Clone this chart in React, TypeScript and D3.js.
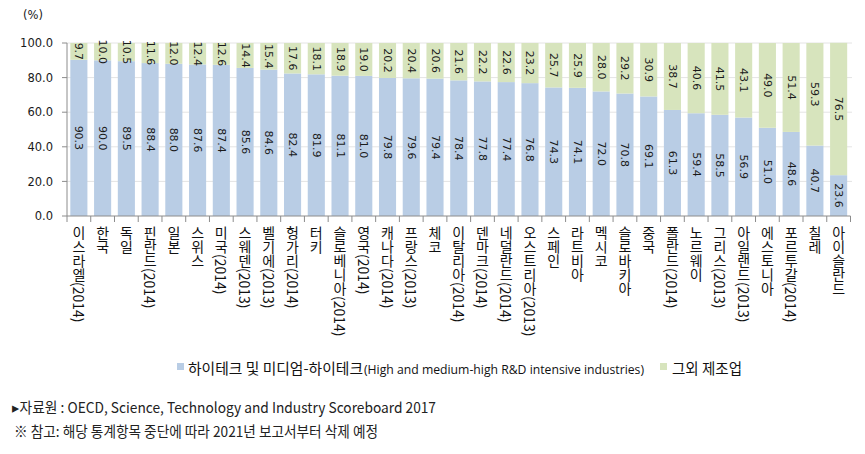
import React from "react";
import * as d3 from "d3";

const categories = [
  "이스라엘(2014)", "한국", "독일", "핀란드(2014)", "일본", "스위스", "미국(2014)",
  "스웨덴(2013)", "벨기에(2013)", "헝가리(2014)", "터키", "슬로베니아(2014)", "영국(2014)",
  "캐나다(2014)", "프랑스(2013)", "체코", "이탈리아(2014)", "덴마크(2014)", "네덜란드(2014)",
  "오스트리아(2013)", "스페인", "라트비아", "멕시코", "슬로바키아", "중국", "폴란드(2014)",
  "노르웨이", "그리스(2013)", "아일랜드(2013)", "에스토니아", "포르투갈(2014)", "칠레", "아이슬란드",
];
const highTech = [
  90.3, 90.0, 89.5, 88.4, 88.0, 87.6, 87.4, 85.6, 84.6, 82.4, 81.9, 81.1, 81.0, 79.8, 79.6,
  79.4, 78.4, 77.8, 77.4, 76.8, 74.3, 74.1, 72.0, 70.8, 69.1, 61.3, 59.4, 58.5, 56.9, 51.0,
  48.6, 40.7, 23.6,
];
const otherMfg = [
  9.7, 10.0, 10.5, 11.6, 12.0, 12.4, 12.6, 14.4, 15.4, 17.6, 18.1, 18.9, 19.0, 20.2, 20.4,
  20.6, 21.6, 22.2, 22.6, 23.2, 25.7, 25.9, 28.0, 29.2, 30.9, 38.7, 40.6, 41.5, 43.1, 49.0,
  51.4, 59.3, 76.5,
];
const yTicks = [0, 20, 40, 60, 80, 100];
const seriesKor = "하이테크 및 미디엄-하이테크";
const seriesEng = "(High and medium-high R&D intensive industries)";
const seriesOther = "그외 제조업";
const footnotes = [
  "▸자료원 : OECD, Science, Technology and Industry Scoreboard 2017",
  "※ 참고: 해당 통계항목 중단에 따라 2021년 보고서부터 삭제 예정",
];

const BLUE = "#b9cde5";
const GREEN = "#d7e4bd";
const AXIS = "#8c8c8c";
const GRID = "#e4e4e4";

export default function App() {
  const W = 865;
  const H = 454;
  const left = 67;
  const right = 850.5;
  const top = 43;
  const bottom = 216;

  const x = d3.scaleBand<string>().domain(categories).range([left, right]).paddingInner(0.28).paddingOuter(0.14);
  const y = d3.scaleLinear().domain([0, 100]).range([bottom, top]);
  const step = x.step();
  const bw = x.bandwidth();
  const offset = (right - left - step * categories.length) / 2;

  const numFont = "'DejaVu Sans', Verdana, sans-serif";
  const korFont = "'Noto Sans CJK KR', 'Noto Sans', sans-serif";

  return (
    <svg width={W} height={H} style={{ position: "absolute", left: 0, top: 0, background: "#fff" }}>
      {yTicks.filter((t) => t > 0).map((t) => (
        <line key={t} x1={left} x2={852} y1={y(t)} y2={y(t)} stroke={GRID} strokeWidth={1} />
      ))}
      {categories.map((c, i) => {
        const x0 = x(c)!;
        const b = highTech[i];
        const g = otherMfg[i];
        return (
          <g key={c}>
            <rect x={x0} y={y(b)} width={bw} height={y(0) - y(b)} fill={BLUE} />
            <rect x={x0} y={y(b + g)} width={bw} height={y(b) - y(b + g)} fill={GREEN} />
          </g>
        );
      })}
      {categories.map((c, i) => {
        const cx = x(c)! + bw / 2;
        const b = highTech[i];
        const g = otherMfg[i];
        return (
          <g key={"l" + c} fontFamily={numFont} fontSize={11} fill="#1a1a1a">
            <text x={cx} y={y(b / 2)} textAnchor="middle" style={{ writingMode: "vertical-rl" }}>
              {b.toFixed(1)}
            </text>
            <text x={cx} y={y(b + g / 2)} textAnchor="middle" style={{ writingMode: "vertical-rl" }}>
              {g.toFixed(1)}
            </text>
          </g>
        );
      })}
      <line x1={left} x2={left} y1={top} y2={bottom} stroke={AXIS} />
      {yTicks.map((t) => (
        <g key={"y" + t}>
          <line x1={left - 5} x2={left} y1={y(t)} y2={y(t)} stroke={AXIS} />
          <text x={53} y={y(t)} dy="0.36em" textAnchor="end" fontFamily={numFont} fontSize={11.5} fill="#1a1a1a">
            {t.toFixed(1)}
          </text>
        </g>
      ))}
      <text x={23} y={19} fontFamily={numFont} fontSize={11.5} fill="#1a1a1a">(%)</text>
      <line x1={left} x2={right} y1={bottom} y2={bottom} stroke={AXIS} />
      {categories.map((c, i) => (
        <line key={"t" + c} x1={left + offset + i * step} x2={left + offset + i * step} y1={bottom} y2={bottom + 6} stroke={AXIS} />
      ))}
      <line x1={right} x2={right} y1={bottom} y2={bottom + 6} stroke={AXIS} />
      {categories.map((c) => (
        <text
          key={"x" + c}
          x={x(c)! + bw / 2}
          y={226}
          fontFamily={korFont}
          fontSize={14}
          fill="#111"
          style={{ writingMode: "vertical-rl" }}
        >
          {c}
        </text>
      ))}
      <rect x={177} y={363} width={7} height={7} fill={BLUE} />
      <text x={188} y={374} fontFamily={korFont} fontSize={15} fill="#111" textLength={175} lengthAdjust="spacingAndGlyphs">
        {seriesKor}
      </text>
      <text x={364} y={374} fontFamily="'Open Sans', 'Liberation Sans', sans-serif" fontSize={12.5} fill="#111" textLength={280} lengthAdjust="spacingAndGlyphs">
        {seriesEng}
      </text>
      <rect x={660} y={363} width={7} height={7} fill={GREEN} />
      <text x={672} y={374} fontFamily={korFont} fontSize={15} fill="#111" textLength={70} lengthAdjust="spacingAndGlyphs">{seriesOther}</text>
      <text x={12} y={413} fontFamily={korFont} fontSize={14.5} fill="#222" textLength={424} lengthAdjust="spacingAndGlyphs">
        {footnotes[0]}
      </text>
      <text x={14} y={437} fontFamily={korFont} fontSize={14.5} fill="#222" textLength={364} lengthAdjust="spacingAndGlyphs">
        {footnotes[1]}
      </text>
    </svg>
  );
}
